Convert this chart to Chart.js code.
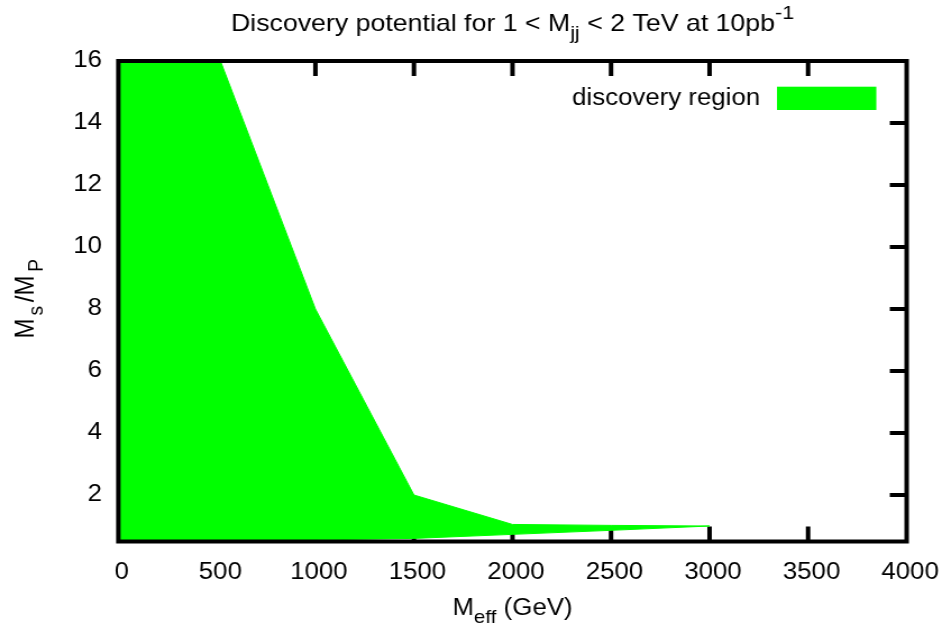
<!DOCTYPE html>
<html><head><meta charset="utf-8">
<script src="https://cdn.jsdelivr.net/npm/chart.js@4/dist/chart.umd.min.js"></script>
<style>
html,body{margin:0;padding:0;background:#fff;overflow:hidden}
#c{display:block;width:942px;height:629px}
</style>
</head><body>
<canvas id="c" width="839" height="629" style="width:942px;height:629px"></canvas>
<script>
// ---- data ----
const mEff = [0, 500, 1000, 1500, 2000, 2500, 3000];          // M_eff (GeV)
const upperRatio = [16.3, 16.3, 8, 2, 1.05, 1.02, 1.0];        // upper edge of region (M_s/M_P)
const lowerRatio = [0.5, 0.5, 0.55, 0.6, 0.73, 0.86, 1.0];     // lower edge of region (M_s/M_P)
const xTicks = [0, 500, 1000, 1500, 2000, 2500, 3000, 3500, 4000];
const yTicks = [2, 4, 6, 8, 10, 12, 14, 16];
const seriesLabel = 'discovery region';
const titleParts = [
  {t: 'Discovery potential for 1 < M'}, {t: 'jj', sub: true},
  {t: ' < 2 TeV at 10pb'}, {t: '-1', sup: true}
];
const xTitleParts = [{t: 'M'}, {t: 'eff', sub: true}, {t: ' (GeV)'}];
const yTitleParts = [{t: 'M'}, {t: 's', sub: true}, {t: '/M'}, {t: 'P', sub: true}];

// ---- styling ----
const FONT = '"Liberation Sans", Arial, Helvetica, sans-serif';
const FS = 23;
const GREEN = '#00ff00';
const W = 839, H = 629;
const LEFT = 105.4, RIGHT = 807.5, TOP = 61, BOTTOM = 541.5;
const TICKLEN = 15, LW = 4;

function drawParts(ctx, parts, x, y, align, fs, spread) {
  const k = spread || 1;
  const sub = fs * 0.8;
  let w = 0;
  parts.forEach(p => {
    ctx.font = `${(p.sub || p.sup) ? sub : fs}px ${FONT}`;
    p.w = ctx.measureText(p.t).width; w += p.w * k;
  });
  let cx = align === 'center' ? x - w / 2 : x;
  ctx.textAlign = 'left';
  ctx.textBaseline = 'alphabetic';
  parts.forEach(p => {
    ctx.font = `${(p.sub || p.sup) ? sub : fs}px ${FONT}`;
    const dy = p.sub ? fs * 0.33 : (p.sup ? -fs * 0.5 : 0);
    ctx.fillText(p.t, cx + p.w * (k - 1) / 2, y + dy);
    cx += p.w * k;
  });
}

const framePlugin = {
  id: 'frame',
  beforeDatasetsDraw(chart) {
    const {ctx, chartArea: a, scales: {x, y}} = chart;
    ctx.save();
    ctx.strokeStyle = '#000'; ctx.lineWidth = LW; ctx.lineCap = 'butt';
    ctx.beginPath();
    x.ticks.forEach(t => {
      if (t.value <= x.min || t.value >= x.max) return;
      const px = x.getPixelForValue(t.value);
      ctx.moveTo(px, a.bottom); ctx.lineTo(px, a.bottom - TICKLEN);
      ctx.moveTo(px, a.top); ctx.lineTo(px, a.top + TICKLEN);
    });
    y.ticks.forEach(t => {
      if (t.value <= y.min || t.value >= y.max) return;
      const py = y.getPixelForValue(t.value);
      ctx.moveTo(a.left, py); ctx.lineTo(a.left + TICKLEN, py);
      ctx.moveTo(a.right, py); ctx.lineTo(a.right - TICKLEN, py);
    });
    ctx.stroke();
    ctx.restore();
  },
  afterDatasetsDraw(chart) {
    const {ctx, chartArea: a} = chart;
    ctx.save();
    ctx.strokeStyle = '#000'; ctx.lineWidth = LW; ctx.lineJoin = 'miter';
    ctx.strokeRect(a.left, a.top, a.right - a.left, a.bottom - a.top);
    ctx.restore();
  },
  afterDraw(chart) {
    const {ctx, chartArea: a} = chart;
    ctx.save();
    ctx.fillStyle = '#000';
    const cxm = (a.left + a.right) / 2;
    drawParts(ctx, titleParts, cxm, 31, 'center', 23.8);
    drawParts(ctx, xTitleParts, cxm, 615, 'center', FS);
    ctx.save();
    ctx.translate(30, 299);
    ctx.rotate(-Math.PI / 2);
    drawParts(ctx, yTitleParts, 0, 0, 'center', 24, 1.2);
    ctx.restore();
    // legend
    const ds = chart.data.datasets[0];
    ctx.font = `${FS}px ${FONT}`;
    ctx.textAlign = 'right'; ctx.textBaseline = 'middle';
    ctx.fillStyle = '#000';
    ctx.fillText(ds.label, 677, 99);
    ctx.fillStyle = ds.backgroundColor;
    ctx.fillRect(692, 86.7, 88.5, 23.3);
    ctx.restore();
  }
};

new Chart(document.getElementById('c'), {
  type: 'line',
  data: {
    datasets: [
      {
        label: seriesLabel,
        data: mEff.map((v, i) => ({x: v, y: upperRatio[i]})),
        fill: '+1',
        backgroundColor: GREEN, borderColor: GREEN, borderWidth: 1,
        pointRadius: 0, tension: 0
      },
      {
        label: '',
        data: mEff.map((v, i) => ({x: v, y: lowerRatio[i]})),
        fill: false,
        backgroundColor: GREEN, borderColor: GREEN, borderWidth: 1,
        pointRadius: 0, tension: 0
      }
    ]
  },
  options: {
    responsive: false,
    animation: false,
    devicePixelRatio: 1,
    layout: {padding: {left: 0, top: TOP, right: W - RIGHT, bottom: 0}},
    plugins: {legend: {display: false}, title: {display: false}, tooltip: {enabled: false}},
    scales: {
      x: {
        type: 'linear', position: 'bottom', min: 0, max: 4000,
        afterBuildTicks: s => { s.ticks = xTicks.map(v => ({value: v})); },
        afterFit: s => { s.height = H - BOTTOM; s.paddingLeft = 0; s.paddingRight = 0; },
        ticks: {
          font: {family: FONT, size: FS}, color: '#000', padding: 17.5, labelOffset: 3.1,
          maxRotation: 0, autoSkip: false, callback: v => String(v)
        },
        grid: {display: false, drawTicks: false},
        border: {display: false}
      },
      y: {
        type: 'linear', position: 'left', min: 0.5, max: 16,
        afterBuildTicks: s => { s.ticks = yTicks.map(v => ({value: v})); },
        afterFit: s => { s.width = LEFT; s.paddingTop = 0; s.paddingBottom = 0; },
        ticks: {
          font: {family: FONT, size: FS}, color: '#000', padding: 14.6,
          autoSkip: false, callback: v => String(v)
        },
        grid: {display: false, drawTicks: false},
        border: {display: false}
      }
    }
  },
  plugins: [framePlugin]
});
</script>
</body></html>
